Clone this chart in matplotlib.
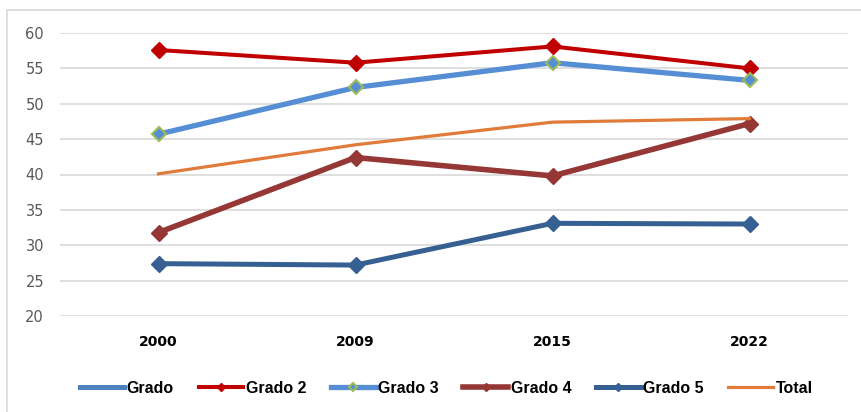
import numpy as np
from matplotlib import pyplot as plt
from matplotlib.patches import Rectangle

years = ["2000", "2009", "2015", "2022"]
grado = [np.nan, np.nan, np.nan, np.nan]
grado_2 = [57.6, 55.8, 58.1, 55.0]
grado_3 = [45.7, 52.3, 55.8, 53.3]
grado_4 = [31.8, 42.4, 39.8, 47.2]
grado_5 = [27.4, 27.2, 33.1, 33.0]
total = [40.1, 44.2, 47.4, 47.9]
yticks = [20, 25, 30, 35, 40, 45, 50, 55, 60]

plt.rcParams['font.family'] = ['DejaVu Sans']

fig = plt.figure(figsize=(8.61, 4.12), dpi=100)
# light outer chart frame (left and top edges visible)
fig.patches.append(Rectangle((7 / 861, -0.05), 1.0, (412 - 10) / 412 + 0.05,
                             transform=fig.transFigure, fill=False,
                             edgecolor='#d9d9d9', linewidth=1.2))
ax = fig.add_axes([60 / 861, 1 - 316 / 412, (848 - 60) / 861, (316 - 33) / 412])

x = np.arange(len(years))
ax.plot(x, grado, color='#4f81bd', lw=3.6, label='Grado')
ax.plot(x, grado_2, color='#c00000', lw=2.9, marker='D', ms=8, label='Grado 2')
ax.plot(x, grado_3, color='#558ed5', lw=3.8, marker='D', ms=7.5,
        mfc='#558ed5', mec='#9bbb59', mew=1.5, label='Grado 3')
ax.plot(x, grado_4, color='#953735', lw=4.0, marker='D', ms=8, label='Grado 4')
ax.plot(x, grado_5, color='#376092', lw=3.6, marker='D', ms=8, label='Grado 5')
ax.plot(x, total, color='#e07b39', lw=2.3, label='Total')

ax.set_xlim(-0.5, 3.5)
ax.set_ylim(20, 60)
ax.set_yticks(yticks)
ax.set_xticks(x)
ax.set_xticklabels(years, fontweight='bold', fontsize=10, color='black')
ax.tick_params(axis='y', length=0, pad=11.5, labelsize=10.5, labelcolor='#595959')
ax.tick_params(axis='x', length=0, pad=14)
ax.grid(axis='y', color='#d9d9d9', lw=1.2)
ax.set_axisbelow(True)
for s in ax.spines.values():
    s.set_visible(False)

ax.legend(loc='center', bbox_to_anchor=(0.49, -0.255), ncol=6, frameon=False,
          prop={'family': ['Liberation Sans', 'DejaVu Sans'], 'weight': 'bold', 'size': 11.5},
          handlelength=2.8, handletextpad=0.15, columnspacing=1.55, markerscale=0.55)

fig.savefig('out.png', dpi=100)
